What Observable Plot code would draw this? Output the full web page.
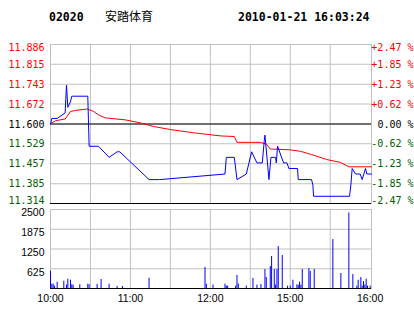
<!DOCTYPE html>
<html><head><meta charset="utf-8">
<script src="https://cdn.jsdelivr.net/npm/d3@7"></script>
<script src="https://cdn.jsdelivr.net/npm/@observablehq/plot@0.6"></script>
<style>
body{margin:0;background:#fff;}
#c{position:relative;width:414px;height:314px;background:#fff;overflow:hidden}
#c > svg{position:absolute;left:0;overflow:visible}
</style></head><body>
<div id="c"></div>
<script>
// ---- data ----
const stockCode = "02020";
const stockName = "安踏体育";
const stamp = "2010-01-21 16:03:24";
const prevClose = 11.600;

const priceTicks = [11.886, 11.815, 11.743, 11.672, 11.600, 11.529, 11.457, 11.385, 11.314];
const pctLabels = ["+2.47 %", "+1.85 %", "+1.23 %", "+0.62 %", "0.00 %", "-0.62 %", "-1.23 %", "-1.85 %", "-2.47 %"];
const volTicks = [2500, 1875, 1250, 625];
const timeTicks = [0, 60, 120, 180, 240];
const timeLabels = ["10:00", "11:00", "12:00", "15:00", "16:00"];
const gridMinutes = [30, 60, 90, 120, 150, 180, 210];

const priceMinutes = [0,1,5,11,12,13,15,16,28,29,36,44,50,52,74,82,131,132,138,140,147,151,155,159,160.5,161,164,165.5,169,169.5,170.5,175,177.5,179,185.5,186,196,197,197.5,224.5,225.5,226.5,229,232.5,234,236.5,237.5,241];
const prices = [11.60,11.62,11.62,11.64,11.74,11.66,11.68,11.70,11.70,11.52,11.52,11.48,11.50,11.50,11.40,11.40,11.42,11.48,11.48,11.40,11.42,11.50,11.46,11.46,11.54,11.56,11.40,11.48,11.48,11.46,11.52,11.46,11.46,11.44,11.44,11.40,11.40,11.38,11.34,11.34,11.38,11.44,11.42,11.42,11.40,11.44,11.42,11.42];

const avgMinutes = [0,4,11,15,19,27.5,32.5,36,41,56,67.5,77.5,90,108,128,138,140,157.5,162,165,180,187.5,196,207.5,217.5,224,241];
const avgPrices = [11.601,11.612,11.618,11.645,11.649,11.654,11.645,11.633,11.622,11.615,11.604,11.591,11.580,11.568,11.557,11.555,11.534,11.534,11.528,11.510,11.507,11.502,11.490,11.472,11.462,11.446,11.446];

const volMinutes = [0,1,2,3,5,10,12,13,15,16,17,22,28,29,35,38,44,50,54,74,116,117,122,131,132,133,139,140,141,147,152,155,158,161,162,165,166,168,169,170,171,174,178,180,182,185,186,187,188,189,194,195,198,212,218,224,227,230,231,233,234,235,236,237,238,240];
const volumes = [550,137,137,75,200,230,110,295,263,117,107,120,135,120,130,285,135,63,63,327,665,137,110,137,75,75,75,411,142,75,316,107,127,600,348,695,1011,600,110,600,1327,1043,75,75,263,117,100,200,107,600,632,537,600,1549,474,2390,442,75,263,348,75,220,110,295,75,75];

// ---- styling ----
const GRID = "#c0c0c0";
const RED = "#ff0000", GREEN = "#006000", BLUE = "#0000ff";
const MONO = "DejaVu Sans Mono";
const SANS = "Liberation Sans, Arial";
const tickColor = v => v > prevClose ? RED : v < prevClose ? GREEN : "#000";
const labelDy = i => i === 0 ? 3 : i === priceTicks.length - 1 ? -3 : 0.5;

const c = document.getElementById("c");

// header
const ns = "http://www.w3.org/2000/svg";
const hdr = document.createElementNS(ns, "svg");
hdr.setAttribute("width", 414); hdr.setAttribute("height", 30);
hdr.style.top = "0px";
[[49, stockCode, MONO, "bold", 11.5], [105, stockName, "Noto Sans CJK SC", "normal", 12], [238, stamp, MONO, "bold", 11.5]].forEach(([x, t, f, w, s]) => {
  const e = document.createElementNS(ns, "text");
  e.setAttribute("x", x); e.setAttribute("y", 20.5);
  e.setAttribute("font-family", f); e.setAttribute("font-weight", w); e.setAttribute("font-size", s);
  e.textContent = t; hdr.appendChild(e);
});
c.appendChild(hdr);

const priceData = priceMinutes.map((m, i) => ({m, p: prices[i]}));
const avgData = avgMinutes.map((m, i) => ({m, p: avgPrices[i]}));
const volData = volMinutes.map((m, i) => ({m, v: volumes[i]}));

const priceMarks = [
  Plot.ruleY(priceTicks, {stroke: GRID}),
  Plot.ruleX(gridMinutes, {stroke: GRID}),
  Plot.frame({stroke: GRID}),
  Plot.ruleY([prevClose, priceTicks[priceTicks.length - 1]], {stroke: "#000"}),
  Plot.line(avgData, {x: "m", y: "p", stroke: RED, strokeWidth: 1}),
  Plot.line(priceData, {x: "m", y: "p", stroke: BLUE, strokeWidth: 1}),
];
priceTicks.forEach((t, i) => {
  priceMarks.push(Plot.text([t], {y: d => d, text: d => d.toFixed(3), frameAnchor: "left", textAnchor: "end", dx: -6, dy: labelDy(i), fill: tickColor(t), fontFamily: MONO, fontSize: 10}));
  priceMarks.push(Plot.text([t], {y: d => d, text: () => pctLabels[i], frameAnchor: "right", textAnchor: "end", dx: 42, dy: labelDy(i), fill: tickColor(t), fontFamily: MONO, fontSize: 10}));
});

const pricePlot = Plot.plot({
  width: 414, height: 176,
  marginTop: 14, marginBottom: 3, marginLeft: 50, marginRight: 43,
  x: {domain: [0, 241], axis: null},
  y: {domain: [11.314, 11.886], axis: null},
  style: {background: "none", overflow: "visible"},
  marks: priceMarks
});
pricePlot.style.top = "30px";
c.appendChild(pricePlot);

const volPlot = Plot.plot({
  width: 414, height: 108,
  marginTop: 3, marginBottom: 26, marginLeft: 50, marginRight: 43,
  x: {domain: [0, 241], axis: null},
  y: {domain: [0, 2500], axis: null},
  style: {background: "none", overflow: "visible"},
  marks: [
    Plot.ruleY(volTicks, {stroke: GRID}),
    Plot.ruleX(gridMinutes, {stroke: GRID}),
    Plot.frame({stroke: GRID}),
    Plot.ruleX(volData, {x: "m", y1: 0, y2: "v", stroke: BLUE, strokeWidth: 1}),
    Plot.ruleY([0], {stroke: "#000"}),
    Plot.text(volTicks, {y: d => d, text: d => String(d), frameAnchor: "left", textAnchor: "end", dx: -6, dy: 3.5, fill: "#000", fontFamily: SANS, fontSize: 10.5}),
    Plot.text(timeTicks, {x: d => d, text: (d, i) => timeLabels[i], frameAnchor: "bottom", lineAnchor: "top", dy: 6, fill: "#000", fontFamily: SANS, fontSize: 10.5})
  ]
});
volPlot.style.top = "206px";
c.appendChild(volPlot);
</script>
</body></html>
